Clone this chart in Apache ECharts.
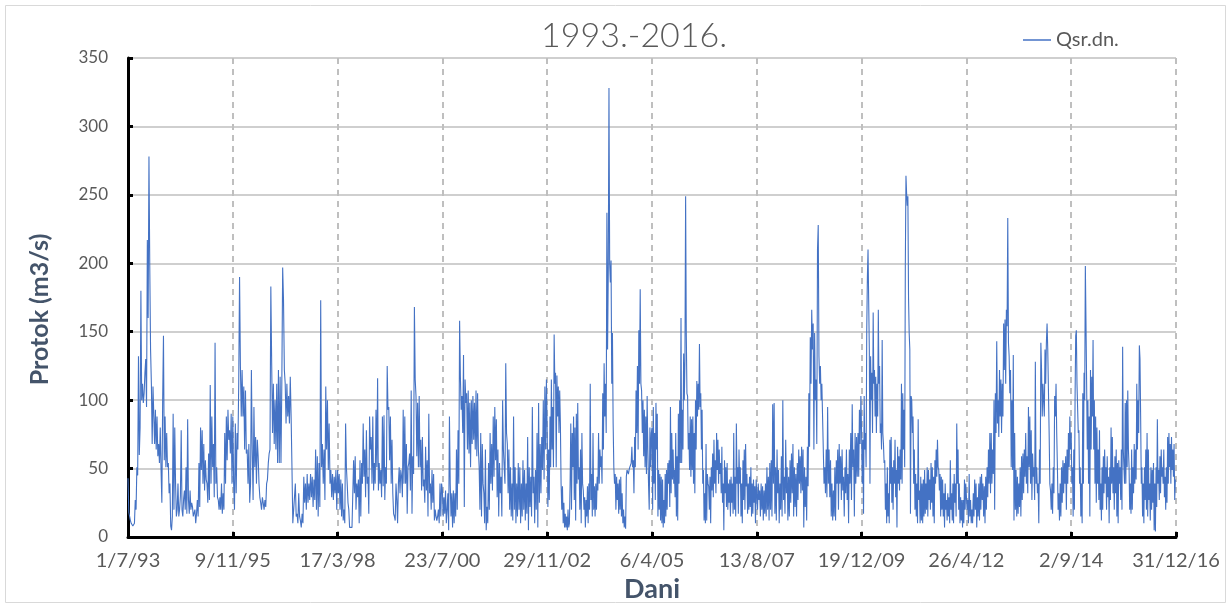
<!DOCTYPE html>
<html>
<head>
<meta charset="utf-8">
<script src="https://cdn.jsdelivr.net/npm/echarts@6/dist/echarts.min.js"></script>
<style>html,body{margin:0;padding:0;background:#fff}#c{width:1227px;height:604px}</style>
</head>
<body>
<div id="c"></div>
<script>
// Tick labels of the date axis (10 equal divisions, 1/7/1993 .. 31/12/2016)
const xLabels = ['1/7/93','9/11/95','17/3/98','23/7/00','29/11/02','6/4/05','13/8/07','19/12/09','26/4/12','2/9/14','31/12/16'];
const yTicks = [0, 50, 100, 150, 200, 250, 300, 350];
const seriesName = 'Qsr.dn.';

// Daily discharge, one array per interval between date ticks (m3/s)
const seg1 = [43,18,15,12,10,9,8,7,10,27,20,51,45,132,60,80,180,100,112,98,105,120,130,95,217,160,278,198,137,112,68,110,109,68,93,64,88,59,68,54,80,49,25,100,147,56,88,51,76,51,54,32,39,8,5,15,90,20,80,39,15,20,39,15,20,30,78,20,15,28,34,20,51,17,86,27,17,34,20,25,22,15,15,20,10,17,27,15,54,22,80,49,78,39,68,34,56,42,39,25,61,27,111,39,88,51,68,29,142,39,51,29,27,20,29,20,39,17,32,20,76,39,88,56,93,71,78,61,90,39];
const seg2 = [88,39,20,83,32,76,64,112,190,125,88,122,88,110,64,107,61,64,39,68,25,39,122,64,27,95,51,73,39,71,59,39,29,25,20,29,25,20,27,22,39,42,54,61,64,183,127,76,112,68,100,64,112,54,122,54,117,54,112,197,173,122,112,83,112,88,103,83,117,88,51,10,9,10,39,15,17,10,32,15,12,7,17,10,44,25,39,20,46,25,39,27,46,29,44,22,42,27,64,20,59,15,54,22,173,51,68,39,64,27,110,64,100,49,83,39,49,29,46,27,44,32,49,20];
const seg3 = [49,32,46,20,42,15,39,12,20,10,83,51,39,25,20,7,7,6,7,6,56,32,59,20,39,29,42,10,56,15,54,39,83,44,64,29,78,39,44,17,88,64,73,39,88,34,54,39,93,51,116,34,54,39,49,29,88,37,89,27,51,39,125,93,95,56,88,39,71,32,17,15,12,39,27,10,39,51,32,49,44,29,93,39,88,39,68,17,51,54,61,34,107,17,59,46,168,115,103,59,98,51,103,51,71,34,73,37,42,25,66,34,56,15,90,32,39,20,49,25,46,12,20,15,12,15,20,10,39,15,39];
const seg4 = [34,15,29,17,34,10,20,32,5,88,39,15,32,7,34,10,32,15,64,20,78,39,158,117,93,103,76,133,22,115,98,105,64,107,61,98,51,100,68,103,71,98,64,107,59,105,64,51,20,76,15,68,39,32,10,64,5,22,10,54,20,76,39,68,34,88,44,95,56,86,29,64,15,54,32,44,15,100,64,51,39,127,76,68,32,64,20,51,15,39,12,88,20,51,10,39,15,54,20,51,10,39,15,56,20,49,12,39,17,73,5,51,22,44,15,95,32,44,10,49,20,76,7,98,25,68,32,73,49,100,42,110,64,115];
const seg5 = [76,22,64,27,88,51,115,64,95,51,148,112,120,51,118,88,110,76,107,83,39,20,37,10,25,7,17,7,15,5,20,7,10,39,83,20,76,51,88,27,80,12,90,39,98,42,51,20,64,10,76,39,34,20,29,7,27,15,37,10,39,20,112,27,46,15,76,20,37,15,39,20,44,34,76,39,64,51,59,39,105,64,127,88,112,76,237,137,195,328,200,186,202,112,149,83,51,39,46,20,44,27,39,17,42,20,44,15,32,10,20,7,15,6,44,49,49,46,49,51,51,54,66,51,56,32,73,51,107,76,125,64,151,112,181,112,107,76,100,59,93,51,88,46,103,64,39,20,80,51,76];
const seg6 = [80,20,95,39,76,27,98,64,90,15,49,20,46,12,44,10,42,7,27,10,46,15,49,20,54,39,56,22,95,32,76,42,64,39,49,29,76,15,59,12,90,39,100,54,160,54,93,64,134,100,129,249,149,105,103,64,76,49,88,44,86,49,88,39,76,32,100,64,114,88,112,93,141,95,105,64,93,39,49,12,32,10,68,12,46,39,37,20,44,10,51,34,61,29,71,39,56,32,76,49,71,39,64,46,54,32,66,25,39,5,56,32,51,22,54,20,39,25,42,15,44,25,39,17,76,20,44,15,83,39,51,17,64,39,51,15,39,10,56,27,64,20,68,37,46,17,39,20,44,22,51,15,39,17,42,25,37,10,42];
const seg7 = [42,20,39,27,34,15,39,20,37,12,34,17,39,15,51,20,44,12,54,20,56,15,97,39,98,17,51,12,64,32,49,10,39,20,59,15,100,27,44,17,71,32,51,12,44,15,56,25,61,32,68,15,51,22,46,15,54,27,64,39,59,32,66,34,64,7,51,22,44,12,66,37,105,66,146,112,166,137,156,64,149,100,115,68,210,228,132,112,125,100,112,88,64,39,51,32,64,29,95,39,64,29,56,15,39,12,34,15,51,12,56,39,64,20,68,39,59,27,64,34,44,15,51,32,64,27,46,10,64,39,76,27,97,51,64,15,76,39,73,44,76,44,93,68,103];
const seg8 = [76,39,71,17,103,64,76,51,151,190,210,173,137,39,132,100,120,76,164,112,122,88,117,76,112,88,166,112,125,76,83,64,144,76,68,54,56,20,39,10,51,15,32,10,71,39,73,25,51,20,56,39,71,29,49,7,66,39,59,34,64,42,112,39,105,64,93,51,198,264,251,242,249,175,149,137,17,103,100,76,88,39,64,20,46,15,39,10,86,27,34,10,44,12,39,10,42,15,49,17,39,20,51,15,49,27,42,20,54,25,51,15,44,10,56,39,64,44,71,51,49,34,46,15,44,20,42,15,32,7,39,20,27,12,32,15,29,10,56,20,32,12,39,10,46,25,39,15,83,39,64,20,39,10,29,12,27,7,27,10,42,20,39];
const seg9 = [39,20,27,10,46,15,27,10,20,10,32,15,42,20,39,7,29,15,39,12,44,20,46,27,39,15,37,10,44,20,51,29,64,39,76,32,76,39,64,46,100,20,105,76,143,83,100,73,122,88,115,76,112,88,156,122,159,112,166,154,233,142,132,105,122,51,100,49,133,12,76,20,49,15,44,17,39,22,51,15,59,27,61,32,64,44,76,39,59,32,95,51,88,39,78,27,61,44,51,27,128,39,51,32,39,10,64,39,142,122,88,112,100,88,137,112,142,156,137,107,76,39,34,20,39,17,51,32,103,88,112,76,51,20,32,12,39,15,51,25,56,32,54,39,59,20,64,39,76,51,88,64];
const seg10 = [76,39,51,15,64,20,100,147,151,112,112,76,78,39,51,15,39,10,105,39,120,100,198,156,112,64,100,39,88,15,122,64,117,88,144,64,100,39,88,25,80,39,64,27,78,20,39,12,51,20,59,32,64,39,51,20,59,29,44,10,51,27,80,39,73,32,51,20,59,32,64,15,54,10,56,39,51,27,64,20,139,64,51,39,98,39,100,51,107,64,51,20,39,17,64,20,51,32,68,39,64,42,112,64,100,76,140,130,88,39,51,15,39,10,51,27,64,20,76,15,64,27,39,12,51,20,49,25,54,5,39,4,51,22,86,39,49,27,59,32,64,44,51,39,64,29,44,20,51,25,73,39,76,51,68,39,73,49,64,44,68,27,42];

const segments = [seg1, seg2, seg3, seg4, seg5, seg6, seg7, seg8, seg9, seg10];
// position along the axis measured in tick intervals
const data = [];
segments.forEach((seg, k) => {
  seg.forEach((v, i) => data.push([k + i / seg.length, v]));
});

const FONT = 'Lato, "Open Sans", sans-serif';
const chart = echarts.init(document.getElementById('c'), null, {renderer: 'canvas'});
chart.setOption({
  animation: false,
  backgroundColor: '#fff',
  graphic: [{
    type: 'rect', left: 3, top: 3, shape: {width: 1220, height: 597},
    style: {fill: 'none', stroke: '#D9D9D9', lineWidth: 1}, silent: true, z: -1
  }],
  title: {
    text: '1993.-2016.', left: 536, top: 14,
    textStyle: {fontFamily: FONT, fontSize: 34, fontWeight: 300, color: '#595959'}
  },
  legend: {
    data: [{name: seriesName, icon: 'rect'}], left: 1018, top: 25, itemWidth: 28, itemHeight: 1.5, itemGap: 4,
    textStyle: {fontFamily: FONT, fontSize: 20, color: '#595959', padding: [0, 0, 0, 0]}
  },
  grid: {left: 128, right: 51, top: 58, bottom: 67, containLabel: false, outerBoundsMode: 'none'},
  xAxis: {
    type: 'value', min: 0, max: xLabels.length - 1, interval: 1,
    name: 'Dani', nameLocation: 'middle', nameGap: 37,
    nameTextStyle: {fontFamily: FONT, fontSize: 27, fontWeight: 'bold', color: '#44546A'},
    axisLine: {show: true, onZero: false, lineStyle: {color: '#000', width: 3}},
    axisTick: {show: true, inside: true, length: 5, lineStyle: {color: '#000', width: 3}},
    axisLabel: {
      margin: 14, fontFamily: FONT, fontSize: 20, color: '#595959',
      showMaxLabel: true, showMinLabel: true,
      formatter: v => xLabels[Math.round(v)] || ''
    },
    splitLine: {show: true, lineStyle: {color: '#BFBFBF', width: 2, type: [6, 5]}}
  },
  yAxis: {
    type: 'value', min: yTicks[0], max: yTicks[yTicks.length - 1], interval: yTicks[1] - yTicks[0],
    name: 'Protok (m3/s)', nameLocation: 'middle', nameGap: 76,
    nameTextStyle: {fontFamily: FONT, fontSize: 25, fontWeight: 'bold', color: '#44546A', padding: [0, 24, 0, 0]},
    axisLine: {show: true, lineStyle: {color: '#000', width: 3}},
    axisTick: {show: true, inside: true, length: 5, lineStyle: {color: '#000', width: 3}},
    axisLabel: {margin: 20, fontFamily: FONT, fontSize: 17, color: '#595959'},
    splitLine: {show: true, lineStyle: {color: '#BFBFBF', width: 1.5}}
  },
  series: [{
    name: seriesName, type: 'line', data: data,
    symbol: 'none', showSymbol: false, sampling: null,
    lineStyle: {color: '#4472C4', width: 1.1},
    itemStyle: {color: '#4472C4'}
  }]
});
</script>
</body>
</html>
